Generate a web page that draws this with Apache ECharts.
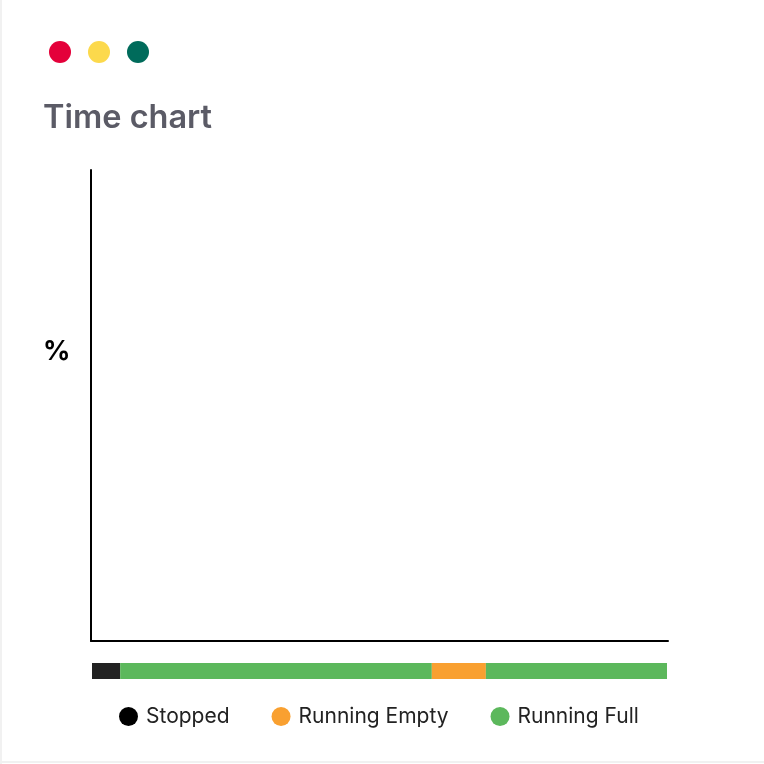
<!DOCTYPE html>
<html>
<head>
<meta charset="utf-8">
<script src="https://cdn.jsdelivr.net/npm/echarts@6/dist/echarts.min.js"></script>
<style>
html,body{margin:0;padding:0;background:#fff;}
#c{width:764px;height:764px;}
</style>
</head>
<body>
<div id="c"></div>
<script>
const legendNames = ['Stopped', 'Running Empty', 'Running Full'];
const segmentNames = ['Stopped', 'Running Full', 'Running Empty', 'Running Full'];
const segmentValues = [4.9, 54.2, 9.4, 31.5];
const segmentColors = ['#222222', '#5cb85c', '#f9a030', '#5cb85c'];
const legendColors = ['#000000', '#f9a030', '#5cb85c'];
const titleText = 'Time chart';
const yAxisName = '%';

const chart = echarts.init(document.getElementById('c'));
const series = segmentValues.map((v, i) => ({
  type: 'bar',
  name: segmentNames[i],
  stack: 'time',
  xAxisIndex: 1,
  yAxisIndex: 1,
  barWidth: 16,
  data: [v],
  itemStyle: { color: segmentColors[i] },
  emphasis: { disabled: true },
  silent: true
}));
chart.setOption({
  animation: false,
  title: {
    text: titleText, left: 38, top: 97,
    textStyle: { fontFamily: 'Inter', fontSize: 32.5, fontWeight: 600, color: '#5b5b66' }
  },
  graphic: [
    { type: 'rect', shape: { x: 0, y: 0, width: 2, height: 764 }, style: { fill: '#f1f1f1' }, silent: true },
    { type: 'rect', shape: { x: 0, y: 761, width: 764, height: 2 }, style: { fill: '#f1f1f1' }, silent: true },
    { type: 'circle', shape: { cx: 60, cy: 52, r: 11 }, style: { fill: '#e4003a' } },
    { type: 'circle', shape: { cx: 99, cy: 52, r: 11 }, style: { fill: '#fcd94c' } },
    { type: 'circle', shape: { cx: 138, cy: 52, r: 11 }, style: { fill: '#006b5b' } },
    { type: 'text', x: 43, y: 352, style: { text: yAxisName, fontFamily: 'Inter', fontSize: 27, fontWeight: 700, fill: '#000', verticalAlign: 'middle', align: 'left' } }
  ],
  legend: {
    data: legendNames.map((n, i) => ({ name: n, itemStyle: { color: legendColors[i] } })),
    top: 701, left: 114,
    icon: 'circle', itemWidth: 19, itemHeight: 19, itemGap: 42,
    textStyle: { fontFamily: 'Inter', fontSize: 21, color: '#222', padding: [0, 0, 0, 3] },
    selectedMode: false
  },
  grid: [
    { left: 91, top: 170, width: 577, height: 471 },
    { left: 92, top: 663, width: 575, height: 16 }
  ],
  xAxis: [
    { gridIndex: 0, type: 'value', min: 0, max: 100,
      axisLine: { show: true, onZero: false, lineStyle: { color: '#000', width: 2 } },
      axisTick: { show: false }, axisLabel: { show: false }, splitLine: { show: false } },
    { gridIndex: 1, type: 'value', min: 0, max: 100, show: false }
  ],
  yAxis: [
    { gridIndex: 0, type: 'value', min: 0, max: 100,
      axisLine: { show: true, lineStyle: { color: '#000', width: 2 } },
      axisTick: { show: false }, axisLabel: { show: false }, splitLine: { show: false } },
    { gridIndex: 1, type: 'category', data: ['t'], show: false }
  ],
  series: series
});
</script>
</body>
</html>
